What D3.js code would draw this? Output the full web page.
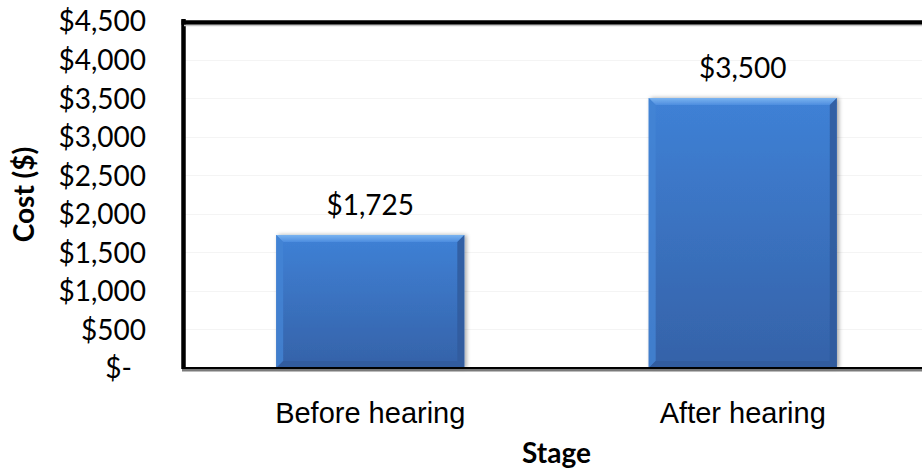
<!DOCTYPE html>
<html>
<head>
<meta charset="utf-8">
<script src="https://cdn.jsdelivr.net/npm/d3@7"></script>
<style>
  html, body { margin: 0; padding: 0; background: #fff; }
  svg { display: block; }
</style>
</head>
<body>
<svg id="chart" width="922" height="472"></svg>
<script>
// Cost by stage of the process
const stages = ["Before hearing", "After hearing"];
const costs = [1725, 3500];
const costTicks = [0, 500, 1000, 1500, 2000, 2500, 3000, 3500, 4000, 4500];

const W = 922, H = 472;
const plot = { left: 184, right: 929, top: 21, bottom: 368 };

const svg = d3.select("#chart");
const defs = svg.append("defs");

const x = d3.scaleBand().domain(stages).range([plot.left, plot.right]).padding(0);
const y = d3.scaleLinear().domain([0, 4500]).range([plot.bottom, plot.top]);
const barW = x.bandwidth() * 0.505;

const money = v => v === 0 ? "$-" : "$" + d3.format(",")(v);

// bar fill gradient
const g = defs.append("linearGradient").attr("id", "barFill")
  .attr("x1", 0).attr("y1", 0).attr("x2", 0).attr("y2", 1);
g.append("stop").attr("offset", "0%").attr("stop-color", "#3f81d6");
g.append("stop").attr("offset", "100%").attr("stop-color", "#3562a8");

const tg = defs.append("linearGradient").attr("id", "bevelTop")
  .attr("x1", 0).attr("y1", 0).attr("x2", 0).attr("y2", 1);
tg.append("stop").attr("offset", "0%").attr("stop-color", "#7ab3f0");
tg.append("stop").attr("offset", "100%").attr("stop-color", "#4d8ddf");

const sh = defs.append("filter").attr("id", "shadow")
  .attr("x", "-10%").attr("y", "-10%").attr("width", "130%").attr("height", "130%");
sh.append("feGaussianBlur").attr("in", "SourceAlpha").attr("stdDeviation", 2).attr("result", "b");
sh.append("feOffset").attr("in", "b").attr("dx", 2).attr("dy", 0).attr("result", "o");
sh.append("feComponentTransfer").attr("in", "o").attr("result", "s")
  .append("feFuncA").attr("type", "linear").attr("slope", 0.35);
const fm = sh.append("feMerge");
fm.append("feMergeNode").attr("in", "s");
fm.append("feMergeNode").attr("in", "SourceGraphic");

// light gridlines
svg.append("g").selectAll("line").data(costTicks.slice(1)).join("line")
  .attr("x1", plot.left).attr("x2", W)
  .attr("y1", d => Math.round(y(d)) + 0.5).attr("y2", d => Math.round(y(d)) + 0.5)
  .attr("stroke", "#f4f4f4").attr("stroke-width", 1);

// y axis labels
const yAxis = d3.axisLeft(y).tickValues(costTicks).tickFormat(money).tickSize(0).tickPadding(0);
const ya = svg.append("g").attr("transform", `translate(146,1)`).call(yAxis);
ya.select(".domain").remove();
ya.selectAll("text")
  .attr("font-family", "Lato, 'Open Sans', sans-serif")
  .attr("font-size", 28)
  .attr("fill", "#000")
  .attr("dx", d => d === 0 ? -14 : 0);

// bars
const bars = svg.append("g").selectAll("g").data(stages.map((s, i) => ({ s, v: costs[i] }))).join("g")
  .attr("filter", "url(#shadow)");

bars.each(function(d) {
  const gEl = d3.select(this);
  const x0 = x(d.s) + (x.bandwidth() - barW) / 2, x1 = x0 + barW;
  const y0 = y(d.v), y1 = y(0);
  const b = 7;
  gEl.append("rect").attr("x", x0).attr("y", y0).attr("width", barW).attr("height", y1 - y0)
    .attr("fill", "url(#barFill)");
  // bevel: top, left, right, bottom
  gEl.append("polygon").attr("points", [[x0, y0], [x1, y0], [x1 - b, y0 + b], [x0 + b, y0 + b]].join(" "))
    .attr("fill", "url(#bevelTop)");
  gEl.append("polygon").attr("points", [[x0, y0], [x0 + b, y0 + b], [x0 + b, y1 - b], [x0, y1]].join(" "))
    .attr("fill", "#4584d5").attr("opacity", 0.8);
  gEl.append("polygon").attr("points", [[x1, y0], [x1, y1], [x1 - b, y1 - b], [x1 - b, y0 + b]].join(" "))
    .attr("fill", "#2f5b9c").attr("opacity", 0.85);
  gEl.append("polygon").attr("points", [[x0, y1], [x0 + b, y1 - b], [x1 - b, y1 - b], [x1, y1]].join(" "))
    .attr("fill", "#30599a").attr("opacity", 0.7);
});

// value labels
svg.append("g").selectAll("text").data(stages.map((s, i) => ({ s, v: costs[i] }))).join("text")
  .attr("x", d => x(d.s) + x.bandwidth() / 2)
  .attr("y", d => y(d.v) - 20)
  .attr("text-anchor", "middle")
  .attr("font-family", "Lato, 'Open Sans', sans-serif")
  .attr("font-size", 28)
  .attr("fill", "#000")
  .text(d => money(d.v));

// plot frame: left and top borders
svg.append("line").attr("x1", plot.left - 0.5).attr("x2", plot.left - 0.5)
  .attr("y1", plot.top - 2).attr("y2", plot.bottom + 1)
  .attr("stroke", "#000").attr("stroke-width", 4.5);
svg.append("line").attr("x1", plot.left - 2.5).attr("x2", W)
  .attr("y1", plot.top + 1.5).attr("y2", plot.top + 1.5)
  .attr("stroke", "#000").attr("stroke-width", 4.5);
svg.append("line").attr("x1", plot.left).attr("x2", W)
  .attr("y1", plot.top + 4.5).attr("y2", plot.top + 4.5)
  .attr("stroke", "#c8c8c8").attr("stroke-width", 1.5);

// category axis line
svg.append("line").attr("x1", plot.left - 2).attr("x2", W)
  .attr("y1", plot.bottom + 2).attr("y2", plot.bottom + 2)
  .attr("stroke", "#7a7a7a").attr("stroke-width", 3);
svg.append("line").attr("x1", plot.left - 2).attr("x2", W)
  .attr("y1", plot.bottom).attr("y2", plot.bottom)
  .attr("stroke", "#000").attr("stroke-width", 2);

// category labels
const xAxis = d3.axisBottom(x).tickSize(0).tickPadding(0);
const xa = svg.append("g").attr("transform", `translate(0,${plot.bottom})`).call(xAxis);
xa.select(".domain").remove();
xa.selectAll("text")
  .attr("dy", 0).attr("y", 55)
  .attr("font-family", "'Liberation Sans', Arial, sans-serif")
  .attr("font-size", 29)
  .attr("fill", "#000");

// axis titles
svg.append("text")
  .attr("x", (plot.left + plot.right) / 2)
  .attr("y", 463)
  .attr("text-anchor", "middle")
  .attr("font-family", "Lato, 'Open Sans', sans-serif")
  .attr("font-weight", "bold")
  .attr("font-size", 28)
  .attr("fill", "#000")
  .text("Stage");

svg.append("text")
  .attr("transform", `translate(34,${(plot.top + plot.bottom) / 2}) rotate(-90)`)
  .attr("text-anchor", "middle")
  .attr("font-family", "Lato, 'Open Sans', sans-serif")
  .attr("font-weight", "bold")
  .attr("font-size", 28)
  .attr("fill", "#000")
  .text("Cost ($)");
</script>
</body>
</html>
